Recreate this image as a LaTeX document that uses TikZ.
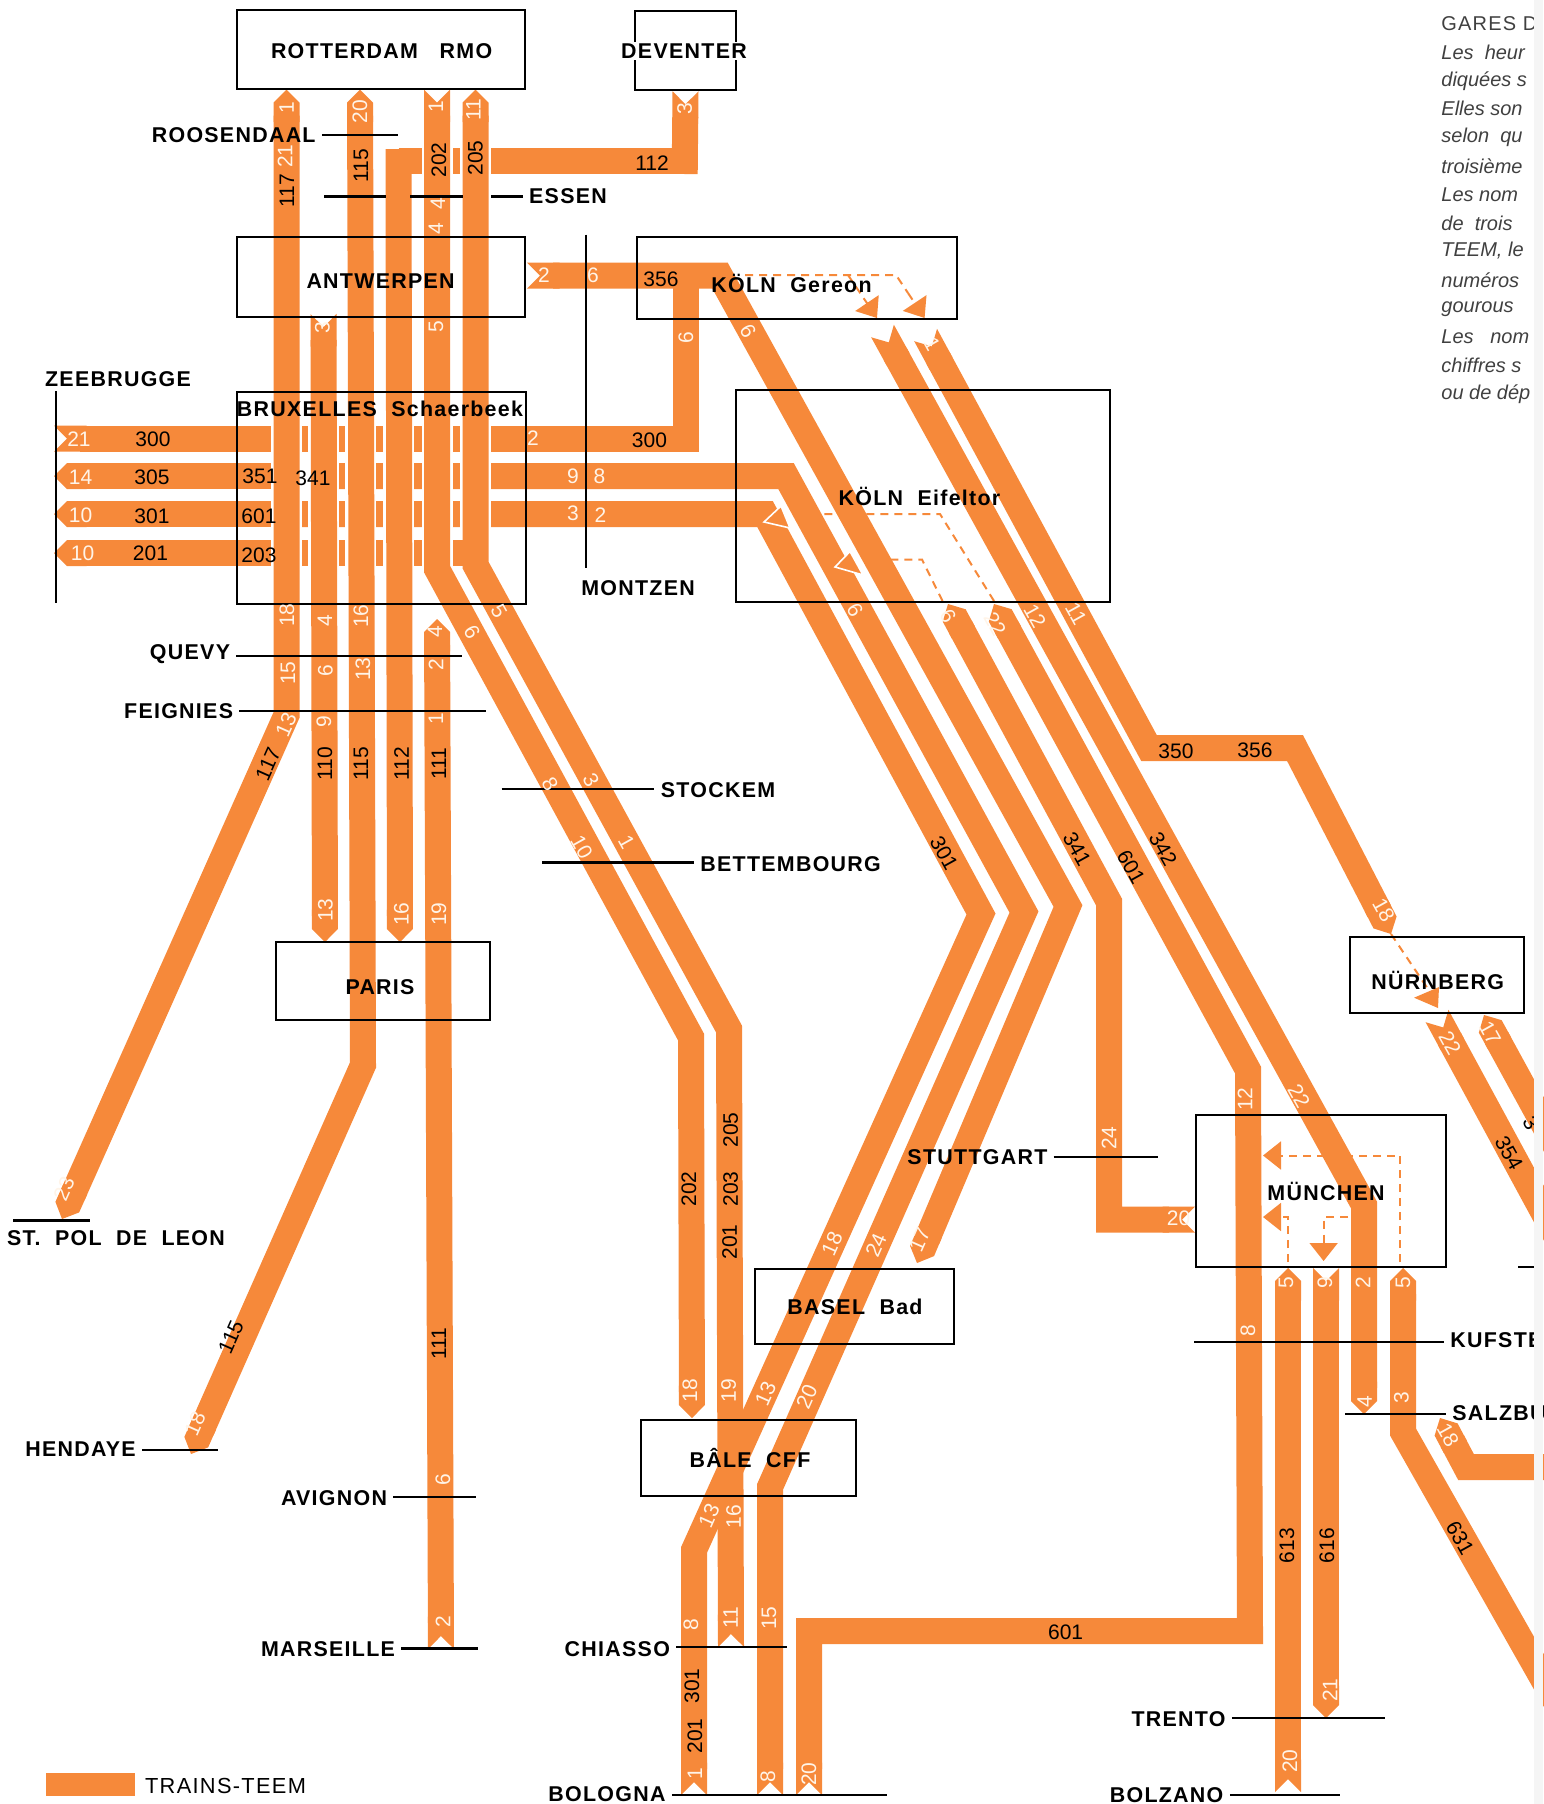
\documentclass[tikz,border=0pt]{standalone}
\usepackage{fontspec}
\setmainfont{Liberation Sans}
\newfontfamily\placefont[LetterSpace=6]{Liberation Sans}
\usetikzlibrary{arrows.meta,backgrounds}
\definecolor{bandorange}{HTML}{F6893A}
\definecolor{numlight}{HTML}{FFF4E8}
\begin{document}
\begin{tikzpicture}[x=.5pt,y=-.5pt]
  \tikzstyle{box}=[draw, line width=1pt, inner sep=0pt]
  \tikzstyle{place}=[inner sep=3pt, font=\placefont\fontsize{10.7}{12}\selectfont\bfseries]
  \tikzstyle{tick}=[line width=1.1pt]
  \tikzstyle{band}=[draw=bandorange, line width=13pt]
  \tikzstyle{gapline}=[draw=white, line width=15.5pt]
  \tikzstyle{pp}=[arrows={Triangle Cap-Triangle Cap}]
  \tikzstyle{pn}=[arrows={Triangle Cap-Triangle Cap[reversed]}]
  \tikzstyle{np}=[arrows={Triangle Cap[reversed]-Triangle Cap}]
  \tikzstyle{dashline}=[draw=bandorange, line width=1pt, dash pattern=on 4pt off 3pt]
  \tikzstyle{dasharrow}=[dashline, arrows={-Triangle[length=9pt,width=14pt]}]
  \tikzstyle{bluff}=[draw=white, fill=bandorange, line width=.8pt]
  \tikzstyle{wnum}=[inner sep=0pt, text=numlight, font=\fontsize{10.5}{12}\selectfont]
  \tikzstyle{bnum}=[inner sep=0pt, text=black, font=\fontsize{10.5}{12}\selectfont]
  \tikzstyle{wv}=[wnum, rotate=90]
  \tikzstyle{wd}=[wnum, rotate=-61]
  \tikzstyle{wu}=[wnum, rotate=66]
  \tikzstyle{bv}=[bnum, rotate=90]
  \tikzstyle{bd}=[bnum, rotate=-61]
  \tikzstyle{bu}=[bnum, rotate=66]
  \tikzstyle{note}=[anchor=west, inner sep=0pt, text=black!75, font=\fontsize{10}{12}\selectfont\itshape]

  \useasboundingbox (0,0) rectangle (1543,1804);

  \node[box, minimum width=143.75pt, minimum height=39.3pt] (rotterdam) at (380.75,49.3) {};
  \node[box, minimum width=50.5pt, minimum height=39.75pt] (deventer) at (685.5,50.5) {};
  \node[box, minimum width=144pt, minimum height=40pt] (antwerpen) at (381,277) {};
  \node[box, minimum width=160pt, minimum height=41pt] (gereon) at (797,278) {};
  \node[box, minimum width=144.5pt, minimum height=106pt] (bruxelles) at (381.5,497.5) {};
  \node[box, minimum width=187pt, minimum height=106pt] (eifeltor) at (923,496) {};
  \node[box, minimum width=107.25pt, minimum height=39pt] (paris) at (382.75,981) {};
  \node[box, minimum width=99.5pt, minimum height=37.5pt] (basel) at (854.5,1306) {};
  \node[box, minimum width=107.5pt, minimum height=38pt] (bale) at (748.5,1457.5) {};
  \node[box, minimum width=125pt, minimum height=76pt] (munchen) at (1321,1191) {};
  \node[box, minimum width=87.25pt, minimum height=37.75pt] (nurnberg) at (1437,975) {};

  \node[place] (rotterdamlabel) at (381.6,51) {ROTTERDAM\ \ \ RMO};
  \node[place, fill=white, inner xsep=0pt, inner ysep=1pt] (deventerlabel) at (684,51) {DEVENTER};
  \node[place] (antwerpenlabel) at (380.6,280.7) {ANTWERPEN};
  \node[place] (gereonlabel) at (791.5,283) {KÖLN\ \ Gereon};
  \node[place] (bruxelleslabel) at (380,409) {BRUXELLES\ \ Schaerbeek};
  \node[place] (eifeltorlabel) at (919.5,496) {KÖLN\ \ Eifeltor};
  \node[place] (parislabel) at (380,987.5) {PARIS};
  \node[place] (basellabel) at (855,1306.7) {BASEL\ \ Bad};
  \node[place] (balelabel) at (750,1458) {BÂLE\ \ CFF};
  \node[place] (munchenlabel) at (1326,1191) {MÜNCHEN};
  \node[place] (nurnberglabel) at (1437.7,980) {NÜRNBERG};

  \coordinate (c117) at (286.5,0);
  \coordinate (c20) at (360,0);
  \coordinate (c202) at (437,0);
  \coordinate (c205) at (475.5,0);

  \begin{pgfonlayer}{background}
    \draw[band, arrows={Triangle Cap[reversed]-}] (54,438.5) -- (686,438.5) -- (686,276);
    \draw[band, arrows={Triangle Cap-}] (54,476) -- (272,476);
    \draw[band, arrows={-Triangle Cap[reversed]}] (337,476) -- (786,476) -- (1024,912) -- (770,1487) -- (770,1795);
    \draw[band, arrows={Triangle Cap-}] (54,514) -- (272,514);
    \draw[band, arrows={-Triangle Cap[reversed]}] (272,514) -- (765,514) -- (981,914) -- (694,1550) -- (694,1795);
    \draw[band, arrows={Triangle Cap-}] (54,553) -- (475,553);
    \draw[band] (398.5,161) -- (684.7,161);
    \foreach \c in {286.5,323.5,360,398.5,437}
      \draw[gapline] (\c,420) -- (\c,575);
    \draw[gapline] (475.5,420) -- (475.5,530);
    \draw[gapline] (437,140) -- (437,182);
    \draw[gapline] (475.5,140) -- (475.5,182);

    \draw[band, pp] (c117 |- rotterdam.south) -- (286.5,715) -- (62,1219);
    \draw[band, np] (323.5,314) -- (325,942);
    \draw[band, pp] (c20 |- rotterdam.south) -- (363,1065) -- (191,1454);
    \draw[band, arrows={-Triangle Cap}] (398.5,149) -- (400,942);
    \draw[band, arrows={-Triangle Cap[reversed]}] (684.7,174) -- (deventer.south);
    \draw[band, np] (c202 |- rotterdam.south) -- (437,569) -- (691,1037) -- (692,1418);
    \draw[band, pn] (c205 |- rotterdam.south) -- (475.5,565) -- (729,1029) -- (731,1647);
    \draw[band, pn] (437,619) -- (441,1649);
    \draw[band, np] (527,275.6) -- (720,275.6) -- (1068,906) -- (917,1263);
    \draw[band, pn] (948,604) -- (1109,902) -- (1109,1219.5) -- (munchen.west |- 1109,1219.5);
    \draw[band, pn] (994,604) -- (1248,1070) -- (1250,1631) -- (809,1631) -- (809,1795);
    \draw[band, np] (882.5,331) -- (1364,1205) -- (1364,1414);
    \draw[band, np] (925.6,335) -- (1149,748) -- (1295,748) -- (1391,934);
    \draw[band, pn] (1288,1268) -- (1288,1792);
    \draw[band, np] (1326,1268) -- (1326,1718);
    \draw[band, arrows={Triangle Cap-}] (1403,1268) -- (1403,1432) -- (1560,1709);
    \draw[band, arrows={Triangle Cap[reversed]-}] (1437,1016) -- (1560,1243);
    \draw[band, arrows={Triangle Cap-}] (1484,1015) -- (1566,1165);
    \draw[band, arrows={Triangle Cap-}] (1440,1418) -- (1466,1467) -- (1560,1467);

    \draw[dashline] (745,275) -- (896,275) -- (908,293);
    \draw[dasharrow] (908,293) -- (924.6,318);
    \draw[dasharrow] (848,275) -- (877,318);
    \draw[dashline] (994,601) -- (940,514) -- (800,514);
    \draw[dashline] (942.5,601) -- (922,559.5) -- (870,559.5);
    \filldraw[bluff] (764,522) -- (781,506) -- (790,528) -- cycle;
    \filldraw[bluff] (835,567) -- (850,551.5) -- (863,575) -- cycle;
    \draw[dasharrow] (1400,1262) -- (1400,1155.5) -- (1263,1155.5);
    \draw[dasharrow] (1288,1262) -- (1288,1217) -- (1263,1217);
    \draw[dasharrow] (1348,1217) -- (1323.6,1217) -- (1323.6,1261);
    \draw[dashline] (1391,934) -- (1430,992);
    \fill[bandorange] (1414,997.7) -- (1439,987) -- (1438,1008) -- cycle;
    \fill[bandorange] (46,1773) rectangle (135,1796);
  \end{pgfonlayer}

  \node[place] (roosendaal) at (233.7,135) {ROOSENDAAL};
  \coordinate (roosendaalE) at (398,135);
  \draw[tick] (roosendaal.east |- roosendaalE) -- (roosendaalE);
  \node[place] (essen) at (568,196.5) {ESSEN};
  \coordinate (essenA) at (324,196.5);
  \coordinate (essenB) at (386,196.5);
  \coordinate (essenC) at (410,196.5);
  \coordinate (essenD) at (463,196.5);
  \coordinate (essenE) at (491,196.5);
  \draw[tick] (essenA) -- (essenB);
  \draw[tick] (essenC) -- (essenD);
  \draw[tick] (essenE) -- (essen.west);
  \node[place] (zeebrugge) at (118,379) {ZEEBRUGGE};
  \coordinate (zeebruggeA) at (56,391);
  \coordinate (zeebruggeB) at (56,603);
  \draw[tick] (zeebruggeA) -- (zeebruggeB);
  \node[place] (montzen) at (638,588) {MONTZEN};
  \coordinate (montzenA) at (586,234.5);
  \coordinate (montzenB) at (586,568);
  \draw[tick] (montzenA) -- (montzenB);
  \node[place] (quevy) at (190,654) {QUEVY};
  \coordinate (quevyE) at (462,656);
  \draw[tick] (quevy.east |- quevyE) -- (quevyE);
  \node[place] (feignies) at (178.6,711) {FEIGNIES};
  \coordinate (feigniesE) at (486,711);
  \draw[tick] (feignies.east |- feigniesE) -- (feigniesE);
  \node[place] (stockem) at (718,790) {STOCKEM};
  \coordinate (stockemW) at (501.5,789);
  \draw[tick] (stockemW) -- (stockem.west |- stockemW);
  \node[place] (bettembourg) at (790.6,864) {BETTEMBOURG};
  \coordinate (bettembourgW) at (542,862.5);
  \draw[tick] (bettembourgW) -- (bettembourg.west |- bettembourgW);
  \node[place] (stpol) at (116,1238.5) {ST.\ \ POL\ \ DE\ \ LEON};
  \coordinate (stpolA) at (13,1220.4);
  \coordinate (stpolB) at (90,1220.4);
  \draw[tick] (stpolA) -- (stpolB);
  \node[place] (hendaye) at (80.6,1449) {HENDAYE};
  \coordinate (hendayeE) at (218,1450);
  \draw[tick] (hendaye.east |- hendayeE) -- (hendayeE);
  \node[place] (avignon) at (334,1498) {AVIGNON};
  \coordinate (avignonE) at (476,1497);
  \draw[tick] (avignon.east |- avignonE) -- (avignonE);
  \node[place] (marseille) at (328,1649.5) {MARSEILLE};
  \coordinate (marseilleE) at (478,1648.4);
  \draw[tick] (marseille.east |- marseilleE) -- (marseilleE);
  \node[place] (chiasso) at (617.3,1649) {CHIASSO};
  \coordinate (chiassoE) at (787,1647);
  \draw[tick] (chiasso.east |- chiassoE) -- (chiassoE);
  \node[place] (bologna) at (607,1794) {BOLOGNA};
  \coordinate (bolognaE) at (887,1795);
  \draw[tick] (bologna.east |- bolognaE) -- (bolognaE);
  \node[place] (stuttgart) at (977.4,1157.5) {STUTTGART};
  \coordinate (stuttgartE) at (1158,1157);
  \draw[tick] (stuttgart.east |- stuttgartE) -- (stuttgartE);
  \node[place, anchor=west] (kufstein) at (1444,1340) {KUFSTE};
  \coordinate (kufsteinW) at (1194,1342);
  \draw[tick] (kufsteinW) -- (kufstein.west |- kufsteinW);
  \node[place, anchor=west] (salzburg) at (1446,1413) {SALZBU};
  \coordinate (salzburgW) at (1345,1414);
  \draw[tick] (salzburgW) -- (salzburg.west |- salzburgW);
  \node[place] (trento) at (1178.5,1719) {TRENTO};
  \coordinate (trentoE) at (1384.6,1718);
  \draw[tick] (trento.east |- trentoE) -- (trentoE);
  \node[place] (bolzano) at (1166.6,1795) {BOLZANO};
  \coordinate (bolzanoE) at (1340,1795);
  \draw[tick] (bolzano.east |- bolzanoE) -- (bolzanoE);
  \coordinate (edgeA) at (1518,1267);
  \coordinate (edgeB) at (1540,1267);
  \draw[tick] (edgeA) -- (edgeB);
  \node[place, font=\placefont\fontsize{10.9}{12}\selectfont] (legend) at (225.5,1785.5) {TRAINS-TEEM};

  \node[wv] (w1) at (286.7,107.5) {1};
  \node[wv] (w2) at (285,156) {21};
  \node[wv] (w3) at (287,615) {18};
  \node[wv] (w4) at (288,673) {15};
  \node[wu] (w5) at (286,724.5) {13};
  \node[wv] (w6) at (360,111.5) {20};
  \node[wv] (w7) at (361,616) {16};
  \node[wv] (w8) at (363,669) {13};
  \node[wv] (w9) at (436,107) {1};
  \node[wv] (w10) at (438,203.6) {4};
  \node[wv] (w11) at (436,229) {4};
  \node[wv] (w12) at (436,327) {5};
  \node[wv] (w13) at (473.5,110) {11};
  \node[wv] (w14) at (322.5,328) {3};
  \node[wv] (w15) at (325,620.5) {4};
  \node[wv] (w16) at (325.5,671) {6};
  \node[wv] (w17) at (324,722) {9};
  \node[wv] (w18) at (325.5,910) {13};
  \node[wv] (w19) at (401.5,914) {16};
  \node[wv] (w20) at (435,631.6) {4};
  \node[wv] (w21) at (436,665) {2};
  \node[wv] (w22) at (436,719) {1};
  \node[wv] (w23) at (439,914) {19};
  \node[wv] (w24) at (443,1480) {6};
  \node[wv] (w25) at (443,1622) {2};
  \node[wv] (w26) at (684.7,109) {3};
  \node[wnum] (w27) at (544,275.6) {2};
  \node[wnum] (w28) at (593,275.6) {6};
  \node[wv] (w29) at (686,338) {6};
  \node[wd] (w30) at (748,331) {6};
  \node[wnum] (w31) at (79,439) {21};
  \node[wnum] (w32) at (533,438) {2};
  \node[wnum] (w33) at (80.6,477) {14};
  \node[wnum] (w34) at (573,476.5) {9};
  \node[wnum] (w35) at (599.5,476.5) {8};
  \node[wnum] (w36) at (80.6,515) {10};
  \node[wnum] (w37) at (573,513) {3};
  \node[wnum] (w38) at (600.5,515) {2};
  \node[wnum] (w39) at (82.6,553.6) {10};
  \node[wd] (w40) at (499,611) {5};
  \node[wd] (w41) at (472,632) {6};
  \node[wd] (w42) at (550,784) {8};
  \node[wd] (w43) at (591,780) {3};
  \node[wd] (w44) at (626.5,842) {1};
  \node[wd] (w45) at (581.6,847) {10};
  \node[wd] (w46) at (932,344) {1};
  \node[wd] (w47) at (855,610) {6};
  \node[wd] (w48) at (948,616) {6};
  \node[wd] (w49) at (995,624) {22};
  \node[wd] (w50) at (1035,616) {12};
  \node[wd] (w51) at (1076,614) {11};
  \node[wd] (w52) at (1383.6,910) {18};
  \node[wv] (w53) at (1245,1099) {12};
  \node[wd] (w54) at (1299,1096) {22};
  \node[wv] (w55) at (1109,1138) {24};
  \node[wnum] (w56) at (1178.5,1218.5) {20};
  \node[wv] (w57) at (1248,1331) {8};
  \node[wv] (w58) at (1286,1283) {5};
  \node[wv] (w59) at (1325,1283) {9};
  \node[wv] (w60) at (1363,1283) {2};
  \node[wv] (w61) at (1403,1283) {5};
  \node[wv] (w62) at (1364.6,1402) {4};
  \node[wv] (w63) at (1401.5,1398) {3};
  \node[wv] (w64) at (1330,1690) {21};
  \node[wv] (w65) at (1290,1761) {20};
  \node[wv] (w66) at (769,1618) {15};
  \node[wv] (w67) at (768,1777) {8};
  \node[wv] (w68) at (809,1774) {20};
  \node[wu] (w69) at (832,1244) {18};
  \node[wu] (w70) at (876,1245) {24};
  \node[wu] (w71) at (919.5,1240) {17};
  \node[wu] (w72) at (765.6,1394) {13};
  \node[wu] (w73) at (806.7,1396.5) {20};
  \node[wv] (w74) at (690,1390.7) {18};
  \node[wv] (w75) at (728.6,1390.7) {19};
  \node[wu] (w76) at (709,1516) {13};
  \node[wv] (w77) at (733.7,1516.6) {16};
  \node[wv] (w78) at (691,1624.5) {8};
  \node[wv] (w79) at (730.6,1618) {11};
  \node[wv] (w80) at (695,1774) {1};
  \node[wu] (w81) at (64,1189) {23};
  \node[wu] (w82) at (195,1424) {18};
  \node[wd] (w83) at (1450,1043) {22};
  \node[wd] (w84) at (1490,1033) {17};
  \node[wd] (w85) at (1448,1435) {18};

  \node[bv] (b1) at (287,190.6) {117};
  \node[bv] (b2) at (361,166) {115};
  \node[bv] (b3) at (361,764) {115};
  \node[bv] (b4) at (439,160) {202};
  \node[bv] (b5) at (475.5,158) {205};
  \node[bv] (b6) at (325,764) {110};
  \node[bv] (b7) at (401.5,764) {112};
  \node[bv] (b8) at (439,764) {111};
  \node[bv] (b9) at (439,1344) {111};
  \node[bnum] (b10) at (652,163) {112};
  \node[bnum] (b11) at (661,279) {356};
  \node[bnum] (b12) at (153,439) {300};
  \node[bnum] (b13) at (649.5,440) {300};
  \node[bnum] (b14) at (152,477) {305};
  \node[bnum] (b15) at (260,476.5) {351};
  \node[bnum] (b16) at (313,478) {341};
  \node[bnum] (b17) at (152,516) {301};
  \node[bnum] (b18) at (259,516) {601};
  \node[bnum] (b19) at (150.5,553.6) {201};
  \node[bnum] (b20) at (259,555) {203};
  \node[bd] (b21) at (944,853) {301};
  \node[bd] (b22) at (1077,849) {341};
  \node[bd] (b23) at (1131,867) {601};
  \node[bd] (b24) at (1163,849) {342};
  \node[bnum] (b25) at (1176,751) {350};
  \node[bnum] (b26) at (1255,750.6) {356};
  \node[bv] (b27) at (1287,1545.5) {613};
  \node[bv] (b28) at (1327,1545.5) {616};
  \node[bnum] (b29) at (1065.6,1632) {601};
  \node[bv] (b30) at (692,1686) {301};
  \node[bv] (b31) at (695,1736) {201};
  \node[bv] (b32) at (729.6,1242) {201};
  \node[bv] (b33) at (730.6,1189) {203};
  \node[bv] (b34) at (730.6,1130) {205};
  \node[bv] (b35) at (689,1189) {202};
  \node[bu] (b36) at (268,764) {117};
  \node[bu] (b37) at (231,1337) {115};
  \node[bd] (b38) at (1509,1153) {354};
  \node[bd] (b39) at (1460,1538) {631};
  \node[bd] (b40) at (1531,1123) {3};

  \node[note, font=\placefont\fontsize{10}{12}\selectfont] (t1) at (1441,23.7) {GARES D};
  \node[note] (t2) at (1441,52.6) {Les\ \ heur};
  \node[note] (t3) at (1441,81) {diquées s};
  \node[note] (t4) at (1441,108.7) {Elles son};
  \node[note] (t5) at (1441,137.5) {selon\ \ qu};
  \node[note] (t6) at (1441,166) {troisième};
  \node[note] (t7) at (1441,194.5) {Les nom};
  \node[note] (t8) at (1441,223.3) {de\ \ trois};
  \node[note] (t9) at (1441,251) {TEEM, le};
  \node[note] (t10) at (1441,280) {numéros};
  \node[note] (t11) at (1441,309) {gourous};
  \node[note] (t12) at (1441,337) {Les\ \ \ nom};
  \node[note] (t13) at (1441,365.6) {chiffres s};
  \node[note] (t14) at (1441,394) {ou de dép};

  \fill[black!4] (1534,0) rectangle (1543,1804);
\end{tikzpicture}
\end{document}
